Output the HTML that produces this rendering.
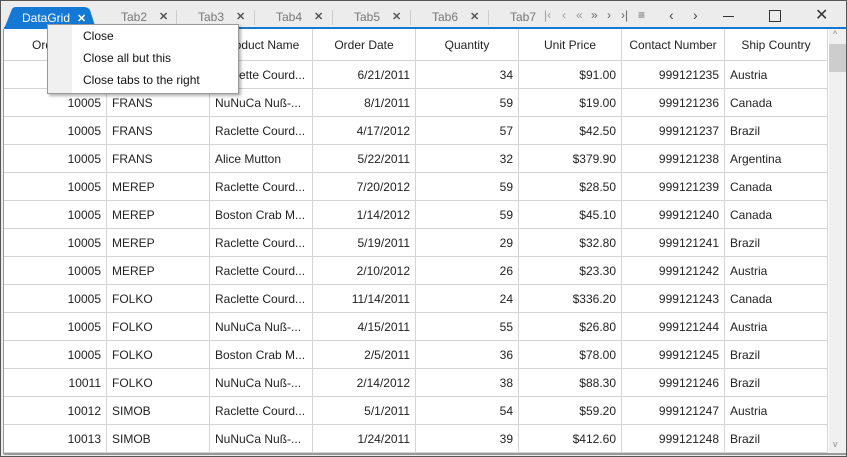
<!DOCTYPE html>
<html><head><meta charset="utf-8"><style>
body{margin:0;width:847px;height:457px;overflow:hidden;font-family:"Liberation Sans",sans-serif;font-size:12px;color:#222;}
#win{position:absolute;left:0;top:0;width:845px;height:455px;border:1px solid #555;background:#ececec;}
.abs{position:absolute;}
.tab{position:absolute;top:9px;width:56px;height:16px;color:#777;font-size:12px;}
.tab .x{position:absolute;left:38px;top:0;color:#555;font-size:11px;font-weight:bold}
.sep{position:absolute;top:9px;width:1px;height:15px;background:#ccc}
#grid{position:absolute;left:2px;top:28px;width:826px;height:425px;background:#fff;border-left:1px solid #999;overflow:hidden}
.cell{position:absolute;height:28px;line-height:28px;border-right:1px solid #d4d4d4;border-bottom:1px solid #d4d4d4;box-sizing:border-box;padding:0 5px;white-space:nowrap;overflow:hidden}
.hd{height:32px;line-height:32px;text-align:center}
.r{text-align:right}
#menu{position:absolute;left:46px;top:23px;width:190px;height:68px;background:#fff;border:1px solid #999;box-shadow:2px 2px 3px rgba(0,0,0,.3)}
#menu div{position:absolute;left:35px;font-size:12px;color:#111}
#menu .g{position:absolute;left:0;top:0;width:24px;height:68px;background:#f0f0f0}
.nb{position:absolute;top:7px;color:#999;font-size:12px}
</style></head><body>
<div id="win">
<svg class="abs" style="left:3px;top:6px" width="92" height="22"><path d="M0 22 L8 2 Q9 0 12 0 L80 0 Q84 0 86 3 L92 22Z" fill="#1479d4"/><text x="18" y="15" fill="#fff" font-family="Liberation Sans" font-size="12">DataGrid</text><text x="73" y="15" fill="#fff" font-size="11" font-weight="bold">✕</text></svg>
<div class="tab" style="left:120px">Tab2<span class="x">✕</span></div>
<div class="sep" style="left:175px"></div>
<div class="tab" style="left:197px">Tab3<span class="x">✕</span></div>
<div class="sep" style="left:253px"></div>
<div class="tab" style="left:275px">Tab4<span class="x">✕</span></div>
<div class="sep" style="left:331px"></div>
<div class="tab" style="left:353px">Tab5<span class="x">✕</span></div>
<div class="sep" style="left:409px"></div>
<div class="tab" style="left:431px">Tab6<span class="x">✕</span></div>
<div class="sep" style="left:487px"></div>
<div class="tab" style="left:509px">Tab7</div>
<div>
<span class="nb" style="left:543px">|‹</span><span class="nb" style="left:561px">‹</span><span class="nb" style="left:575px">«</span><span class="nb" style="left:590px;color:#666">»</span><span class="nb" style="left:606px;color:#666">›</span><span class="nb" style="left:620px;color:#666">›|</span><span class="nb" style="left:637px;color:#666">≡</span></div>
<div class="abs" style="left:668px;top:6px;color:#444;font-size:14px">‹</div>
<div class="abs" style="left:692px;top:6px;color:#444;font-size:14px">›</div>
<div class="abs" style="left:722px;top:15px;width:11px;height:1px;background:#333"></div>
<div class="abs" style="left:768px;top:9px;width:10px;height:10px;border:1px solid #333"></div>
<div class="abs" style="left:814px;top:4px;font-size:16px;color:#333">✕</div>
<div class="abs" style="left:3px;top:26px;width:842px;height:2px;background:#1479d4"></div>
<div id="grid"></div>
<div class="abs" style="left:828px;top:28px;width:17px;height:425px;background:#f0f0f0">
<div class="abs" style="left:0;top:15px;width:17px;height:28px;background:#cdcdcd"></div>
<div class="abs" style="left:4px;top:0;font-size:9px;color:#888">^</div>
<div class="abs" style="left:4px;top:410px;font-size:9px;color:#888">v</div></div>
<div class="abs" style="left:3px;top:452px;width:842px;height:2px;background:#999"></div>
<div id="menu"><div class="g"></div>
<div style="top:4px">Close</div>
<div style="top:26px">Close all but this</div>
<div style="top:48px">Close tabs to the right</div></div>
</div>
<script>
const headers=["Order ID","Customer ID","Product Name","Order Date","Quantity","Unit Price","Contact Number","Ship Country"];
const orderIds=[10005,10005,10005,10005,10005,10005,10005,10005,10005,10005,10005,10011,10012,10013];
const customers=["FRANS","FRANS","FRANS","FRANS","MEREP","MEREP","MEREP","MEREP","FOLKO","FOLKO","FOLKO","FOLKO","SIMOB","SIMOB"];
const products=["Raclette  Courd...","NuNuCa Nuß-...","Raclette  Courd...","Alice Mutton","Raclette  Courd...","Boston Crab M...","Raclette  Courd...","Raclette  Courd...","Raclette  Courd...","NuNuCa Nuß-...","Boston Crab M...","NuNuCa Nuß-...","Raclette  Courd...","NuNuCa Nuß-..."];
const dates=["6/21/2011","8/1/2011","4/17/2012","5/22/2011","7/20/2012","1/14/2012","5/19/2011","2/10/2012","11/14/2011","4/15/2011","2/5/2011","2/14/2012","5/1/2011","1/24/2011"];
const quantities=[34,59,57,32,59,59,29,26,24,55,36,38,54,39];
const prices=["$91.00","$19.00","$42.50","$379.90","$28.50","$45.10","$32.80","$23.30","$336.20","$26.80","$78.00","$88.30","$59.20","$412.60"];
const contacts=[999121235,999121236,999121237,999121238,999121239,999121240,999121241,999121242,999121243,999121244,999121245,999121246,999121247,999121248];
const countries=["Austria","Canada","Brazil","Argentina","Canada","Canada","Brazil","Austria","Canada","Austria","Brazil","Brazil","Austria","Brazil"];
const g=document.getElementById('grid');
const W=103;
function mk(x,y,w,cls,txt){const d=document.createElement('div');d.className='cell '+cls;d.style.left=x+'px';d.style.top=y+'px';d.style.width=w+'px';d.textContent=txt;g.appendChild(d);return d;}
headers.forEach((h,i)=>{const d=mk(i*W,0,W,'hd',h);

});
const rows=orderIds.length;
for(let r=0;r<rows;r++){const y=32+r*28;
const vals=[orderIds[r],customers[r],products[r],dates[r],quantities[r],prices[r],contacts[r],countries[r]];
const al=['r','','','r','r','r','r',''];
vals.forEach((v,i)=>{const d=mk(i*W,y,W,al[i],String(v));

});}
</script>
</body></html>
